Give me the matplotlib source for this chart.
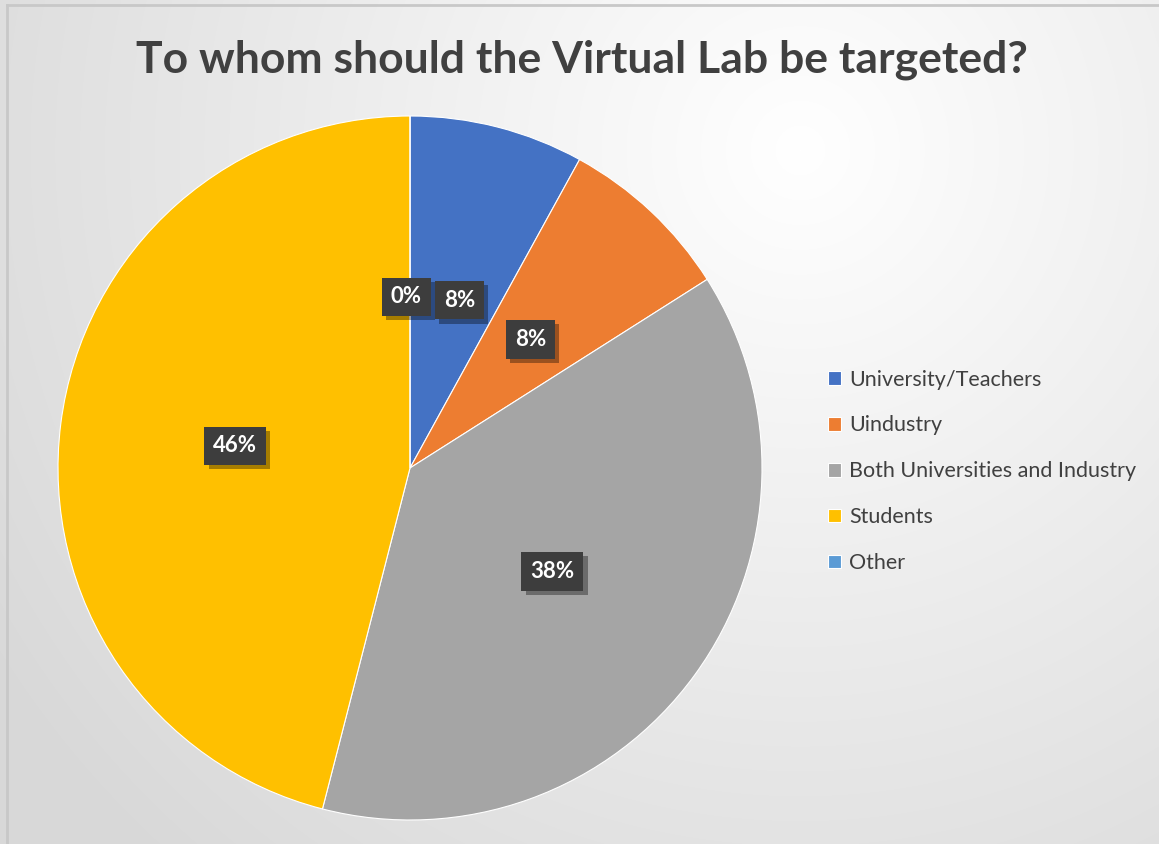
import numpy as np
import matplotlib.pyplot as plt
import matplotlib.patheffects as pe

# datos
categories = ['University/Teachers', 'Uindustry', 'Both Universities and Industry', 'Students', 'Other']
values = [8, 8, 38, 46, 0]
colors = ['#4472C4', '#ED7D31', '#A5A5A5', '#FFC000', '#5B9BD5']
title = 'To whom should the Virtual Lab be targeted?'

plt.rcParams['font.family'] = ['Lato', 'DejaVu Sans']

W, H = 1159, 844
fig = plt.figure(figsize=(W / 100, H / 100), dpi=100)

# fondo con degradado radial
bg = fig.add_axes([0, 0, 1, 1])
yy, xx = np.mgrid[0:H, 0:W]
d = np.sqrt((xx - 800) ** 2 + (yy - 150) ** 2) / 950
d = np.clip(d, 0, 1)
shade = 1.0 - 0.15 * d
bg.imshow(np.dstack([shade] * 3), extent=[0, 1, 0, 1], aspect='auto', origin='upper')
bg.plot([0.006, 0.006], [0, 0.994], color='#c8c8c8', lw=2)
bg.plot([0.006, 1], [0.994, 0.994], color='#c8c8c8', lw=2)
bg.set_xlim(0, 1)
bg.set_ylim(0, 1)
bg.axis('off')

# pastel
ax = fig.add_axes([58 / W, 1 - 820 / H, 704 / W, 704 / H])
wedges, texts, autotexts = ax.pie(
    values, colors=colors, startangle=90, counterclock=False,
    autopct='%1.0f%%', pctdistance=0.5,
    wedgeprops=dict(edgecolor='white', linewidth=0.8),
    textprops=dict(color='white', fontsize=16, fontweight='bold'))
ax.set_xlim(-1, 1)
ax.set_ylim(-1, 1)
ax.set_aspect('equal')

for t in autotexts:
    t.set_bbox(dict(boxstyle='square,pad=0.4', facecolor='#3d3d3d', edgecolor='none'))
    t.get_bbox_patch().set_path_effects(
        [pe.withSimplePatchShadow(offset=(3, -3), shadow_rgbFace='black', alpha=0.35)])

# ajuste del 0% para que no se encime
autotexts[4].set_position((-0.01, 0.486))
autotexts[0].set_position((0.14, 0.477))

fig.text(0.502, 0.929, title, ha='center', va='center', fontsize=32,
         fontweight='bold', color='#404040')

leg = fig.legend(wedges, categories, loc='upper left', bbox_to_anchor=(0.698, 0.585),
                 frameon=False, fontsize=15.5, handlelength=0.6, handleheight=0.6,
                 handletextpad=0.35, labelspacing=1.2, labelcolor='#404040')

fig.savefig('out.png', dpi=100)
